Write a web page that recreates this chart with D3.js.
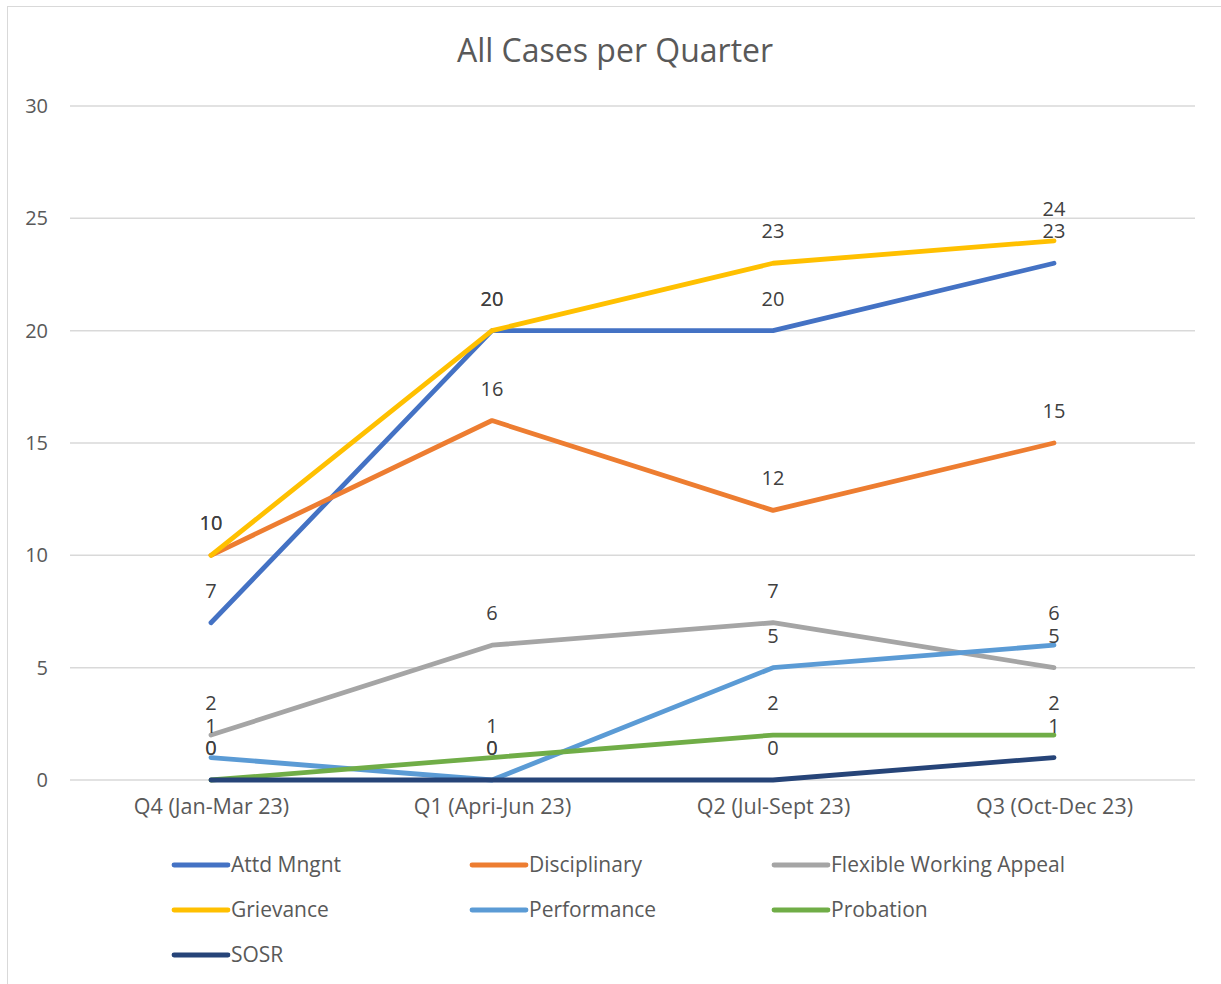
<!DOCTYPE html>
<html><head><meta charset="utf-8">
<script src="https://cdn.jsdelivr.net/npm/d3@7"></script>
<style>body{margin:0;background:#fff;} text{font-family:"Open Sans","Noto Sans",sans-serif;}</style>
</head><body>
<svg id="c" width="1221" height="984"></svg>
<script>
const categories = ["Q4 (Jan-Mar 23)", "Q1 (Apri-Jun 23)", "Q2 (Jul-Sept 23)", "Q3 (Oct-Dec 23)"];
const seriesNames = ["Attd Mngnt", "Disciplinary", "Flexible Working Appeal", "Grievance", "Performance", "Probation", "SOSR"];
const attdMngnt = [7, 20, 20, 23];
const disciplinary = [10, 16, 12, 15];
const flexibleWorkingAppeal = [2, 6, 7, 5];
const grievance = [10, 20, 23, 24];
const performance = [1, 0, 5, 6];
const probation = [0, 1, 2, 2];
const sosr = [0, 0, 0, 1];
const yTicks = [0, 5, 10, 15, 20, 25, 30];
const colors = ["#4472C4", "#ED7D31", "#A5A5A5", "#FFC000", "#5B9BD5", "#70AD47", "#264478"];
const values = [attdMngnt, disciplinary, flexibleWorkingAppeal, grievance, performance, probation, sosr];
const series = seriesNames.map((n, i) => ({name: n, values: values[i], color: colors[i]}));

const svg = d3.select("#c");
svg.append("rect").attr("x", 7.5).attr("y", 6.5).attr("width", 1230).attr("height", 1000)
  .attr("fill", "#fff").attr("stroke", "#d9d9d9");

svg.append("text").attr("x", 615).attr("y", 62).attr("text-anchor", "middle")
  .attr("font-size", 32).attr("fill", "#595959").text("All Cases per Quarter");

const x = d3.scalePoint().domain(categories).range([211, 1054]);
const y = d3.scaleLinear().domain([0, 30]).range([780, 106]);

const grid = svg.append("g");
grid.selectAll("line").data(yTicks).join("line")
  .attr("x1", 70).attr("x2", 1195).attr("y1", d => y(d)).attr("y2", d => y(d))
  .attr("stroke", "#d9d9d9").attr("stroke-width", 1.5);

const yAxis = d3.axisLeft(y).tickValues(yTicks).tickSize(0).tickPadding(0);
const ya = svg.append("g").attr("transform", "translate(48,0)").call(yAxis);
ya.select(".domain").remove();
ya.selectAll("text").attr("font-size", 20).attr("fill", "#595959").attr("font-family", "'Open Sans','Noto Sans',sans-serif");

const xAxis = d3.axisBottom(x).tickSize(0).tickPadding(0);
const xa = svg.append("g").attr("transform", "translate(0,799)").call(xAxis);
xa.select(".domain").remove();
xa.selectAll("text").attr("font-size", 21.5).attr("fill", "#595959").attr("font-family", "'Open Sans','Noto Sans',sans-serif");

const line = d3.line().x((d, i) => x(categories[i])).y(d => y(d));
series.forEach(s => {
  svg.append("path").datum(s.values).attr("d", line).attr("fill", "none")
    .attr("stroke", s.color).attr("stroke-width", 4.8).attr("stroke-linecap", "round").attr("stroke-linejoin", "round");
});

series.forEach(s => {
  svg.append("g").selectAll("text").data(s.values).join("text")
    .attr("x", (d, i) => x(categories[i])).attr("y", d => y(d) - 25)
    .attr("text-anchor", "middle").attr("font-size", 20).attr("fill", "#404040")
    .text(d => d);
});

const legendPos = [[172, 865], [470, 865], [772, 865], [172, 910], [470, 910], [772, 910], [172, 955]];
series.forEach((s, i) => {
  const [lx, ly] = legendPos[i];
  svg.append("line").attr("x1", lx + 2).attr("x2", lx + 56).attr("y1", ly).attr("y2", ly)
    .attr("stroke", s.color).attr("stroke-width", 4.8).attr("stroke-linecap", "round");
  svg.append("text").attr("x", lx + 59).attr("y", ly + 7).attr("font-size", 21).attr("fill", "#595959").text(s.name);
});
</script>
</body></html>
